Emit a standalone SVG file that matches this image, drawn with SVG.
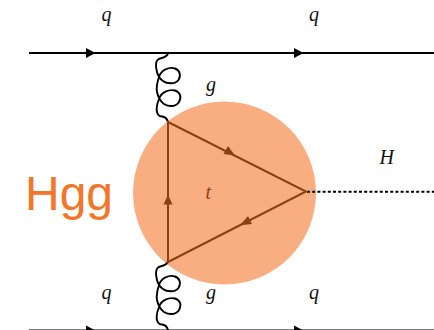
<svg xmlns="http://www.w3.org/2000/svg" width="434" height="330" viewBox="0 0 434 330">
<style>
.q{stroke:#000;stroke-width:2;fill:none}
.h{stroke:#000;stroke-width:2;fill:none;stroke-dasharray:3 2.200}
.g{stroke:#000;stroke-width:1.900;fill:none}
.t{stroke:#8a4012;stroke-width:2;fill:none}
.m{font-family:"Liberation Serif",serif;font-style:italic;font-size:20px;fill:#111}
</style>
<defs>
<path id="gl" d="M168 53C167 59 160 57 157.500 60C155 63 156 68 157 72C158 76 160 79 163 81C167 84 175 84.500 178.500 80C181.500 75 179.500 70 175 68.500C169 66.500 161 70 159 77C157 83 156 87 157 92C158 97 160 101 164 104C169 107 176 107 179 102C182 97 180 92 175 90.500C169 89 161 92 159 99C157 104 156 108 157 112C158 117 161 116 164 117C167 118 167.500 120 168 122"/>
</defs>
<g id="blob"><circle cx="224.500" cy="193" r="91.500" fill="#f9ae82"/></g>
<g id="connectors">
<path class="q" d="M29 53H434M29 330.500H434"/>
<path d="M86 48L95.500 53L86 58ZM294 48L303.500 53L294 58ZM86 325.500L95.500 330.500L86 335.500ZM294 325.500L303.500 330.500L294 335.500Z" fill="#000"/>
<use href="#gl" class="g"/>
<use href="#gl" class="g" y="208"/>
<path class="h" d="M307 191.700H434"/>
<path class="t" d="M168 122L306 191.500L168 262Z"/>
<path d="M163.500 204.500L168 194.500L172.500 204.500ZM223.500 154L228 146L235 155.500ZM240 225.200L248 216L252 224Z" fill="#8a4012"/>
</g>
<g id="labels">
<text class="m" x="101.500" y="21">q</text>
<text class="m" x="309" y="21">q</text>
<text class="m" x="206" y="91">g</text>
<text class="m" x="379.500" y="164">H</text>
<text class="m" x="205.500" y="199" style="fill:#8a4012">t</text>
<text class="m" x="101.500" y="299">q</text>
<text class="m" x="206" y="299">g</text>
<text class="m" x="309" y="299">q</text>
<text x="25" y="210" font-family="'Liberation Sans',sans-serif" font-size="48" fill="#f37527">Hgg</text>
</g>
</svg>
